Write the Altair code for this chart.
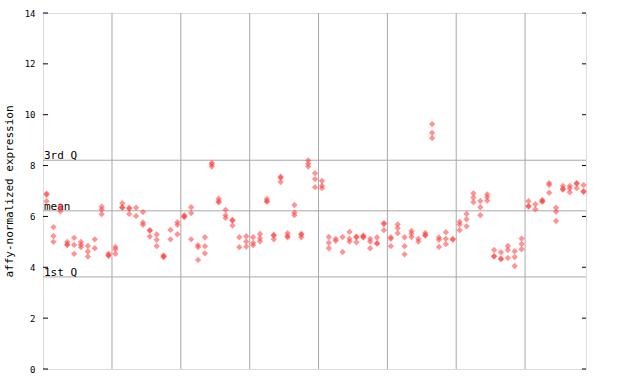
import altair as alt
import pandas as pd

# expression values per sample column
col_values = [
    [6.9, 6.85, 6.6], [5.58, 5.23, 5.0], [6.41, 6.31, 6.2], [5.0, 4.91, 4.87],
    [5.16, 4.88, 4.53], [5.0, 4.89, 4.79], [4.84, 4.62, 4.42], [5.1, 4.75],
    [6.38, 6.27, 6.09], [4.54, 4.47, 4.45], [4.8, 4.71, 4.53], [6.52, 6.36, 6.34],
    [6.34, 6.3, 6.1], [6.34, 6.02], [6.17, 5.76, 5.67], [5.46, 5.44, 5.21],
    [5.29, 5.08, 4.83], [4.47, 4.42, 4.4], [5.47, 5.1], [5.77, 5.67, 5.3],
    [6.05, 6.0, 5.97], [6.36, 6.13, 5.1], [4.87, 4.79, 4.29], [5.18, 4.83, 4.55],
    [8.1, 8.05, 7.96], [6.7, 6.6, 6.55], [6.26, 6.05, 5.94], [5.86, 5.84, 5.64],
    [5.18, 4.79], [5.22, 5.01, 4.81], [5.18, 4.96, 4.87], [5.31, 5.14, 5.02],
    [6.69, 6.6, 6.58], [5.27, 5.25, 5.1], [7.56, 7.52, 7.35], [5.34, 5.23, 5.18],
    [6.45, 6.15, 6.05], [5.31, 5.29, 5.18], [8.2, 8.07, 7.96], [7.7, 7.47, 7.15],
    [7.4, 7.21, 7.11], [5.19, 4.96, 4.75], [5.12, 5.04], [5.19, 4.6],
    [5.39, 5.12, 5.01], [5.2, 5.18, 4.98], [5.25, 5.2, 5.18], [5.12, 5.01, 4.75],
    [5.17, 4.95, 4.93], [5.74, 5.7, 5.46], [5.18, 5.12, 4.83], [5.69, 5.54, 5.34],
    [5.18, 4.83, 4.51], [5.43, 5.33, 5.19], [5.12, 5.01], [5.35, 5.27, 5.25],
    [9.63, 9.29, 9.08], [5.17, 5.08, 4.8], [5.38, 5.12, 4.91], [5.12, 5.08],
    [5.79, 5.68, 5.46], [6.1, 5.89, 5.61], [6.91, 6.74, 6.56], [6.61, 6.36, 6.05],
    [6.87, 6.76, 6.62], [4.68, 4.44, 4.42], [4.59, 4.34, 4.32], [4.84, 4.68, 4.37],
    [4.63, 4.4, 4.05], [5.13, 4.92, 4.71], [6.6, 6.41, 6.39], [6.48, 6.28],
    [6.65, 6.6, 6.58], [7.31, 7.24, 6.93], [6.34, 6.18, 5.82], [7.2, 7.08, 7.06],
    [7.2, 7.1, 6.95], [7.31, 7.29, 7.11], [7.23, 6.99, 6.97],
]

group_bounds = [9.5, 19.5, 29.5, 39.5, 49.5, 59.5, 69.5]
stat_labels = ["3rd Q", "mean", "1st Q"]
stat_values = [8.21, 6.22, 3.62]
y_ticks = [0, 2, 4, 6, 8, 10, 12, 14]

rows = [{"sample": i, "value": v} for i, vals in enumerate(col_values) for v in vals]
df = pd.DataFrame(rows)
bounds_df = pd.DataFrame({"b": group_bounds})
stats_df = pd.DataFrame({"label": stat_labels, "value": stat_values})
ticks_df = pd.DataFrame({"t": y_ticks})

W, H = 543, 356
FONT = "DejaVu Sans Mono"

xscale = alt.Scale(domain=[-0.52, 78.35], nice=False, zero=False)
yscale = alt.Scale(domain=[0, 14], nice=False)

vgrid = alt.Chart(bounds_df).mark_rule(color="#a8a8a8", strokeWidth=1).encode(
    x=alt.X("b:Q", scale=xscale, axis=None)
)

hgrid = alt.Chart(stats_df).mark_rule(color="#a8a8a8", strokeWidth=1).encode(
    y=alt.Y("value:Q", scale=yscale,
            axis=alt.Axis(values=y_ticks, tickSize=0, labelPadding=8, grid=False,
                          domain=False, labelFont=FONT, labelFontSize=9,
                          labelColor="black", title="affy-normalized expression",
                          titleFont=FONT, titleFontSize=11, titleFontWeight="normal",
                          titleColor="black", titlePadding=10))
)

stat_text = alt.Chart(stats_df).mark_text(
    align="left", baseline="alphabetic", font=FONT, fontSize=11, color="black", dx=1, dy=-1
).encode(
    x=alt.value(0),
    y=alt.Y("value:Q", scale=yscale),
    text="label:N",
)

left_ticks = alt.Chart(ticks_df).mark_rule(color="black").encode(
    x=alt.value(0), x2=alt.value(5), y=alt.Y("t:Q", scale=yscale)
)
right_ticks = alt.Chart(ticks_df).mark_rule(color="black").encode(
    x=alt.value(W - 4), x2=alt.value(W), y=alt.Y("t:Q", scale=yscale)
)

points = alt.Chart(df).mark_point(
    shape="diamond", filled=True, size=40, opacity=0.55, color="#ff3c3c", strokeWidth=0
).encode(
    x=alt.X("sample:Q", scale=xscale, axis=None),
    y=alt.Y("value:Q", scale=yscale),
)

chart = alt.layer(vgrid, hgrid, stat_text, left_ticks, right_ticks, points).properties(
    width=W, height=H,
    autosize="none",
    padding={"left": 43, "top": 13, "right": 54, "bottom": 15},
).configure_view(stroke="black", strokeWidth=1).configure(background="white")

chart.save("out.html", embed_options={"renderer": "svg", "actions": False})
